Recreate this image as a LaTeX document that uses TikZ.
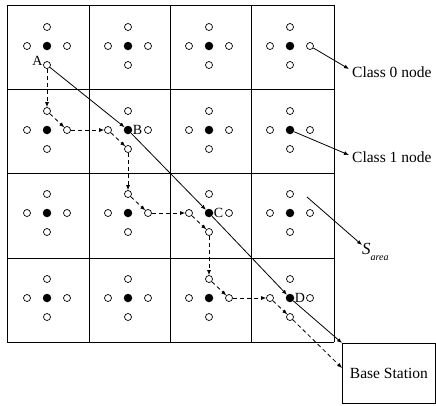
\documentclass[tikz,border=0pt]{standalone}
\usepackage{fontspec}
\setmainfont{Liberation Serif}
\usetikzlibrary{arrows.meta}
\begin{document}
\begin{tikzpicture}[x=1pt,y=-1pt,
  hollow/.style={circle,draw,line width=0.7pt,minimum size=7pt,inner sep=0pt},
  solid/.style={circle,fill,minimum size=8.5pt,inner sep=0pt},
  gridline/.style={line width=0.8pt},
  tip/.style={-{Latex[length=5pt,width=4pt]}},
  path1/.style={tip,line width=0.8pt},
  hop/.style={tip,line width=0.8pt,dash pattern=on 4pt off 3pt},
  lbl/.style={font=\fontsize{14}{16}\selectfont,inner sep=0pt},
  txt/.style={font=\fontsize{15.5}{18}\selectfont,inner sep=0pt}]
\useasboundingbox (0,0) rectangle (436,405);
% grid
\foreach \x in {7,89,170,251,334} \draw[gridline] (\x,5) -- (\x,342);
\foreach \y in {5,89,173,258,342} \draw[gridline] (7,\y) -- (334,\y);
% nodes
\foreach \i/\cx in {0/47,1/128,2/209,3/290}{
  \foreach \j/\cy in {0/46,1/130,2/213,3/298}{
    \node[solid] (c\i\j) at (\cx,\cy) {};
    \node[hollow] (t\i\j) at (\cx,\cy-19) {};
    \node[hollow] (b\i\j) at (\cx,\cy+19) {};
    \node[hollow] (l\i\j) at (\cx-20,\cy) {};
    \node[hollow] (r\i\j) at (\cx+20,\cy) {};
  }
}
% labels
\node[lbl,anchor=east] (la) at ([xshift=-0.5pt,yshift=4pt]b00.west) {A};
\node[lbl,anchor=west] (lb) at ([xshift=0.3pt]c11.east) {B};
\node[lbl,anchor=west] (lc) at ([xshift=0.3pt]c22.east) {C};
\node[lbl,anchor=west] (ld) at ([xshift=0.3pt]c33.east) {D};
% base station
\node[draw,line width=0.8pt,minimum width=93pt,minimum height=60pt,anchor=north west,txt] (bs) at (342,343) {Base Station};
% solid path
\draw[path1] (b00) -- (c11);
\draw[path1] (c11) -- (c22);
\draw[path1] (c22) -- (c33);
\draw[path1] (c33) -- (bs.north west);
% dashed hops
\draw[hop] (b00) -- (t01);
\draw[hop] (t01) -- (r01);
\draw[hop] (r01) -- (l11);
\draw[hop] (l11) -- (b11);
\draw[hop] (b11) -- (t12);
\draw[hop] (t12) -- (r12);
\draw[hop] (r12) -- (l22);
\draw[hop] (l22) -- (b22);
\draw[hop] (b22) -- (t23);
\draw[hop] (t23) -- (r23);
\draw[hop] (r23) -- (l33);
\draw[hop] (l33) -- (b33);
\coordinate (bsin) at (342,368);
\draw[hop] (b33) -- (bsin);
% legend
\coordinate (k0) at (349,69);
\coordinate (k1) at (349,155);
\coordinate (ks) at (362,245);
\coordinate (ks0) at (307,197);
\draw[path1] (r30) -- (k0);
\draw[path1] (c31) -- (k1);
\draw[path1] (ks0) -- (ks);
\node[txt,anchor=west] (cl0) at (352,72) {Class 0 node};
\node[txt,anchor=west] (cl1) at (352,157) {Class 1 node};
\node[inner sep=0pt,anchor=west] (sa) at (362,252) {\fontsize{17}{19}\selectfont\itshape S\raisebox{-6pt}{\fontsize{10}{11}\selectfont area}};
\end{tikzpicture}
\end{document}
